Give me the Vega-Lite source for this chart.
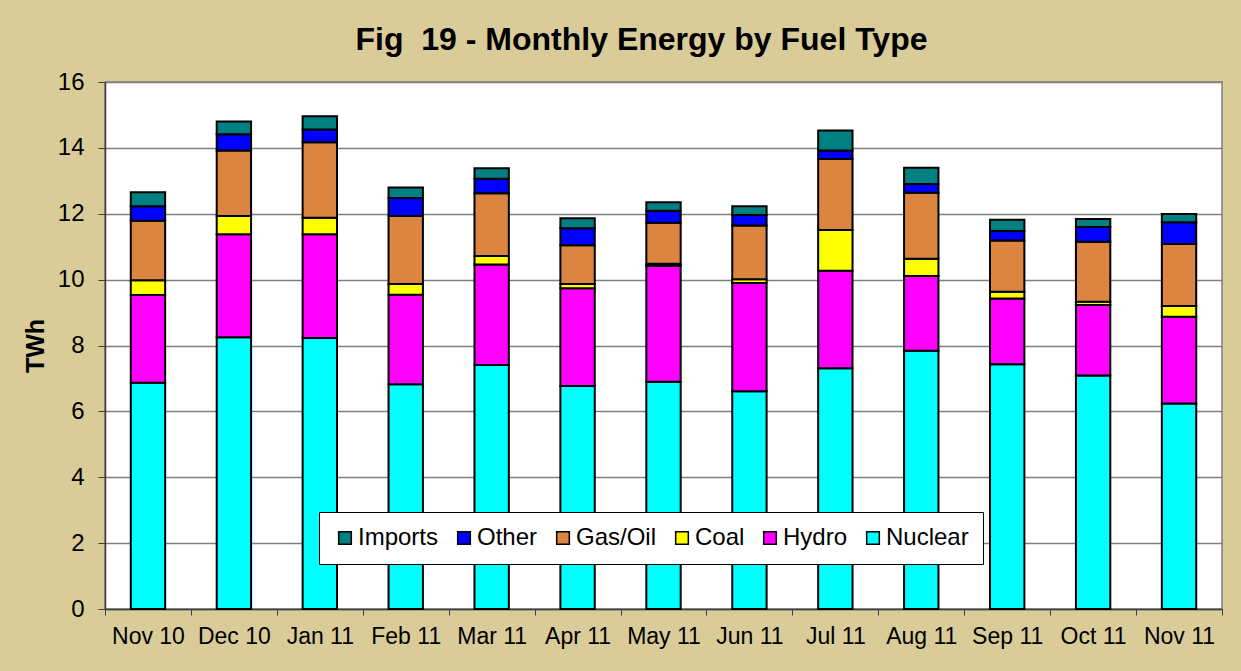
{
  "$schema": "https://vega.github.io/schema/vega-lite/v6.json",
  "autosize": "none",
  "width": 1117,
  "height": 527,
  "padding": {"left": 105, "top": 82, "right": 19, "bottom": 62},
  "background": "#D9CC99",
  "title": {
    "text": "Fig \u00a019 - Monthly Energy by Fuel Type",
    "font": "Liberation Sans",
    "fontSize": 32,
    "fontWeight": "bold",
    "color": "black",
    "anchor": "middle",
    "frame": "group",
    "dx": -22,
    "offset": 13
  },
  "data": {
    "values": [
      {"month": "Nov 10", "fuel": "Nuclear", "twh": 6.87},
      {"month": "Nov 10", "fuel": "Hydro", "twh": 2.66},
      {"month": "Nov 10", "fuel": "Coal", "twh": 0.45},
      {"month": "Nov 10", "fuel": "Gas/Oil", "twh": 1.81},
      {"month": "Nov 10", "fuel": "Other", "twh": 0.44},
      {"month": "Nov 10", "fuel": "Imports", "twh": 0.42},
      {"month": "Dec 10", "fuel": "Nuclear", "twh": 8.25},
      {"month": "Dec 10", "fuel": "Hydro", "twh": 3.13},
      {"month": "Dec 10", "fuel": "Coal", "twh": 0.55},
      {"month": "Dec 10", "fuel": "Gas/Oil", "twh": 1.99},
      {"month": "Dec 10", "fuel": "Other", "twh": 0.49},
      {"month": "Dec 10", "fuel": "Imports", "twh": 0.39},
      {"month": "Jan 11", "fuel": "Nuclear", "twh": 8.23},
      {"month": "Jan 11", "fuel": "Hydro", "twh": 3.15},
      {"month": "Jan 11", "fuel": "Coal", "twh": 0.50},
      {"month": "Jan 11", "fuel": "Gas/Oil", "twh": 2.29},
      {"month": "Jan 11", "fuel": "Other", "twh": 0.39},
      {"month": "Jan 11", "fuel": "Imports", "twh": 0.40},
      {"month": "Feb 11", "fuel": "Nuclear", "twh": 6.82},
      {"month": "Feb 11", "fuel": "Hydro", "twh": 2.72},
      {"month": "Feb 11", "fuel": "Coal", "twh": 0.33},
      {"month": "Feb 11", "fuel": "Gas/Oil", "twh": 2.06},
      {"month": "Feb 11", "fuel": "Other", "twh": 0.55},
      {"month": "Feb 11", "fuel": "Imports", "twh": 0.32},
      {"month": "Mar 11", "fuel": "Nuclear", "twh": 7.41},
      {"month": "Mar 11", "fuel": "Hydro", "twh": 3.05},
      {"month": "Mar 11", "fuel": "Coal", "twh": 0.26},
      {"month": "Mar 11", "fuel": "Gas/Oil", "twh": 1.90},
      {"month": "Mar 11", "fuel": "Other", "twh": 0.44},
      {"month": "Mar 11", "fuel": "Imports", "twh": 0.32},
      {"month": "Apr 11", "fuel": "Nuclear", "twh": 6.77},
      {"month": "Apr 11", "fuel": "Hydro", "twh": 2.97},
      {"month": "Apr 11", "fuel": "Coal", "twh": 0.13},
      {"month": "Apr 11", "fuel": "Gas/Oil", "twh": 1.17},
      {"month": "Apr 11", "fuel": "Other", "twh": 0.52},
      {"month": "Apr 11", "fuel": "Imports", "twh": 0.30},
      {"month": "May 11", "fuel": "Nuclear", "twh": 6.90},
      {"month": "May 11", "fuel": "Hydro", "twh": 3.52},
      {"month": "May 11", "fuel": "Coal", "twh": 0.06},
      {"month": "May 11", "fuel": "Gas/Oil", "twh": 1.25},
      {"month": "May 11", "fuel": "Other", "twh": 0.36},
      {"month": "May 11", "fuel": "Imports", "twh": 0.26},
      {"month": "Jun 11", "fuel": "Nuclear", "twh": 6.61},
      {"month": "Jun 11", "fuel": "Hydro", "twh": 3.29},
      {"month": "Jun 11", "fuel": "Coal", "twh": 0.11},
      {"month": "Jun 11", "fuel": "Gas/Oil", "twh": 1.63},
      {"month": "Jun 11", "fuel": "Other", "twh": 0.32},
      {"month": "Jun 11", "fuel": "Imports", "twh": 0.27},
      {"month": "Jul 11", "fuel": "Nuclear", "twh": 7.31},
      {"month": "Jul 11", "fuel": "Hydro", "twh": 2.96},
      {"month": "Jul 11", "fuel": "Coal", "twh": 1.24},
      {"month": "Jul 11", "fuel": "Gas/Oil", "twh": 2.15},
      {"month": "Jul 11", "fuel": "Other", "twh": 0.26},
      {"month": "Jul 11", "fuel": "Imports", "twh": 0.61},
      {"month": "Aug 11", "fuel": "Nuclear", "twh": 7.84},
      {"month": "Aug 11", "fuel": "Hydro", "twh": 2.27},
      {"month": "Aug 11", "fuel": "Coal", "twh": 0.52},
      {"month": "Aug 11", "fuel": "Gas/Oil", "twh": 2.01},
      {"month": "Aug 11", "fuel": "Other", "twh": 0.26},
      {"month": "Aug 11", "fuel": "Imports", "twh": 0.50},
      {"month": "Sep 11", "fuel": "Nuclear", "twh": 7.43},
      {"month": "Sep 11", "fuel": "Hydro", "twh": 2.00},
      {"month": "Sep 11", "fuel": "Coal", "twh": 0.20},
      {"month": "Sep 11", "fuel": "Gas/Oil", "twh": 1.56},
      {"month": "Sep 11", "fuel": "Other", "twh": 0.29},
      {"month": "Sep 11", "fuel": "Imports", "twh": 0.34},
      {"month": "Oct 11", "fuel": "Nuclear", "twh": 7.09},
      {"month": "Oct 11", "fuel": "Hydro", "twh": 2.14},
      {"month": "Oct 11", "fuel": "Coal", "twh": 0.10},
      {"month": "Oct 11", "fuel": "Gas/Oil", "twh": 1.82},
      {"month": "Oct 11", "fuel": "Other", "twh": 0.45},
      {"month": "Oct 11", "fuel": "Imports", "twh": 0.24},
      {"month": "Nov 11", "fuel": "Nuclear", "twh": 6.24},
      {"month": "Nov 11", "fuel": "Hydro", "twh": 2.63},
      {"month": "Nov 11", "fuel": "Coal", "twh": 0.33},
      {"month": "Nov 11", "fuel": "Gas/Oil", "twh": 1.88},
      {"month": "Nov 11", "fuel": "Other", "twh": 0.66},
      {"month": "Nov 11", "fuel": "Imports", "twh": 0.25}
    ]
  },
  "transform": [
    {"calculate": "indexof(['Nuclear','Hydro','Coal','Gas/Oil','Other','Imports'], datum.fuel)", "as": "stackRank"}
  ],
  "mark": {"type": "bar", "width": {"band": 0.4}, "stroke": "black", "strokeWidth": 2},
  "encoding": {
    "x": {
      "field": "month",
      "type": "nominal",
      "sort": null,
      "scale": {"paddingInner": 0, "paddingOuter": 0},
      "axis": {
        "title": null,
        "labelAngle": 0,
        "labelFont": "Liberation Sans",
        "labelFontSize": 23,
        "labelColor": "black",
        "labelPadding": 10,
        "tickBand": "extent",
        "tickSize": 6,
        "tickColor": "#404040",
        "domainColor": "#404040",
        "domainWidth": 1.5,
        "grid": false
      }
    },
    "y": {
      "field": "twh",
      "type": "quantitative",
      "stack": "zero",
      "scale": {"domain": [0, 16], "nice": false},
      "axis": {
        "title": "TWh",
        "titleFont": "Liberation Sans",
        "titleFontSize": 25,
        "titleFontWeight": "bold",
        "titleColor": "black",
        "titlePadding": 9,
        "values": [0, 2, 4, 6, 8, 10, 12, 14, 16],
        "labelFont": "Liberation Sans",
        "labelFontSize": 24,
        "labelColor": "black",
        "labelPadding": 14,
        "tickSize": 7,
        "tickColor": "#404040",
        "domainColor": "#404040",
        "domainWidth": 1.5,
        "grid": true,
        "gridColor": "#7f7f7f",
        "gridWidth": 1.5
      }
    },
    "color": {
      "field": "fuel",
      "type": "nominal",
      "scale": {
        "domain": ["Imports", "Other", "Gas/Oil", "Coal", "Hydro", "Nuclear"],
        "range": ["#008080", "#0000FF", "#DB8540", "#FFFF00", "#FF00FF", "#00FFFF"]
      },
      "legend": {
        "title": null,
        "orient": "none",
        "legendX": 214,
        "legendY": 430,
        "direction": "horizontal",
        "fillColor": "white",
        "strokeColor": "black",
        "padding": 14,
        "labelFont": "Liberation Sans",
        "labelFontSize": 24,
        "labelColor": "black",
        "labelOffset": 1,
        "columnPadding": 13,
        "symbolType": "square",
        "symbolSize": 160,
        "symbolStrokeColor": "black",
        "symbolStrokeWidth": 1.5,
        "symbolOpacity": 1
      }
    },
    "order": {"field": "stackRank", "type": "quantitative", "sort": "ascending"}
  },
  "config": {
    "view": {"fill": "white", "stroke": "#808080", "strokeWidth": 1.5},
    "legend": {"strokeWidth": 1}
  }
}
